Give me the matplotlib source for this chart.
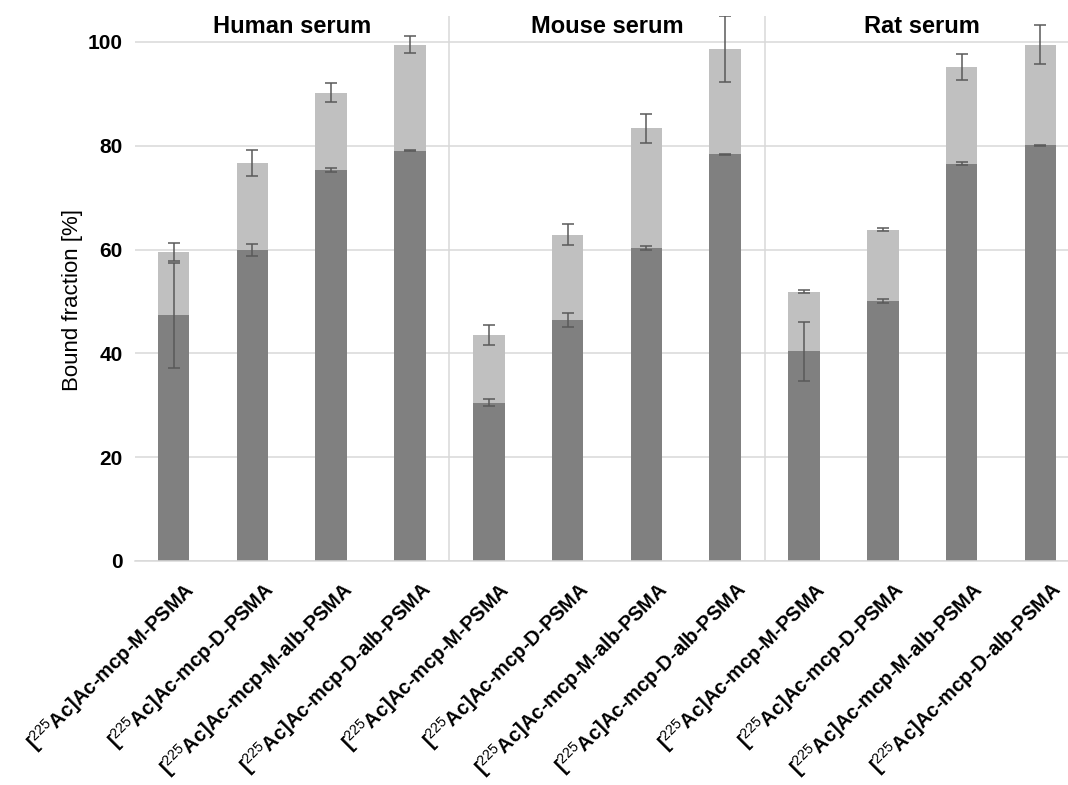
import matplotlib
matplotlib.use("Agg")
import matplotlib.pyplot as plt
from matplotlib.transforms import ScaledTranslation
import numpy as np

plt.rcParams['font.family'] = ['Liberation Sans', 'DejaVu Sans']
plt.rcParams['mathtext.fontset'] = 'custom'
plt.rcParams['mathtext.rm'] = 'Liberation Sans'
plt.rcParams['mathtext.default'] = 'rm'

compounds = ["M-PSMA", "D-PSMA", "M-alb-PSMA", "D-alb-PSMA"]
groups = ["Human serum", "Mouse serum", "Rat serum"]
labels = [r"[$^{225}$Ac]Ac-mcp-" + c for c in compounds] * 3

# dark (lower) segment value and error
dark = [47.3, 59.9, 75.3, 79.0,
        30.5, 46.4, 60.3, 78.4,
        40.4, 50.1, 76.5, 80.1]
dark_err = [10.2, 1.1, 0.4, 0.1,
            0.7, 1.4, 0.4, 0.1,
            5.7, 0.3, 0.3, 0.1]
# total (stacked) height and error
total = [59.5, 76.7, 90.2, 99.5,
         43.6, 62.9, 83.4, 98.6,
         51.9, 63.8, 95.1, 99.5]
total_err = [1.7, 2.5, 1.8, 1.6,
             1.9, 2.0, 2.8, 6.4,
             0.3, 0.3, 2.5, 3.7]
yticks = [0, 20, 40, 60, 80, 100]

light = [t - d for t, d in zip(total, dark)]
x = np.arange(len(labels))

fig = plt.figure(figsize=(10.68, 7.85), dpi=100)
ax = fig.add_axes([135/1068, 224/785, 1 - 135/1068, 545/785])

grid_c = '#d9d9d9'
bw = 0.40
ax.bar(x, dark, width=bw, color='#808080', zorder=2)
ax.bar(x, light, bottom=dark, width=bw, color='#c0c0c0', zorder=2)
ec = '#5a5a5a'
ax.errorbar(x, total, yerr=total_err, fmt='none', ecolor=ec, elinewidth=1.1,
            capsize=4, capthick=1.1, zorder=3)
ax.errorbar(x, dark, yerr=dark_err, fmt='none', ecolor=ec, elinewidth=1.1,
            capsize=4, capthick=1.1, zorder=3)

ax.set_xlim(-0.49, 11.35)
ax.set_ylim(0, 105)
ax.set_yticks(yticks)
ax.set_yticklabels([str(v) for v in yticks], fontsize=15, fontweight='bold')
ax.yaxis.grid(True, color=grid_c, linewidth=1.1, zorder=0)
ax.set_axisbelow(True)
for s in ['top', 'right', 'left']:
    ax.spines[s].set_visible(False)
ax.spines['bottom'].set_color(grid_c)
ax.spines['bottom'].set_linewidth(1.1)
ax.tick_params(axis='y', length=0, pad=9)
ax.tick_params(axis='x', length=0, pad=0)

for sep in [3.5, 7.5]:
    ax.axvline(sep, color=grid_c, linewidth=1.1, zorder=1)

for i, g in enumerate(groups):
    ax.text(4 * i + 1.5, 103, g, ha='center', va='center', fontsize=17,
            fontweight='bold')

ax.set_xticks(x)
ax.set_xticklabels(labels, rotation=45, ha='right', va='center',
                   rotation_mode='anchor', fontsize=14.5, fontweight='bold')
off = ScaledTranslation(0.18, -0.25, fig.dpi_scale_trans)
for lab in ax.get_xticklabels():
    lab.set_transform(lab.get_transform() + off)

ax.set_ylabel('Bound fraction [%]', fontsize=16)
ax.yaxis.set_label_coords(-0.0557, 0.479)

fig.savefig('out.png', dpi=100)
